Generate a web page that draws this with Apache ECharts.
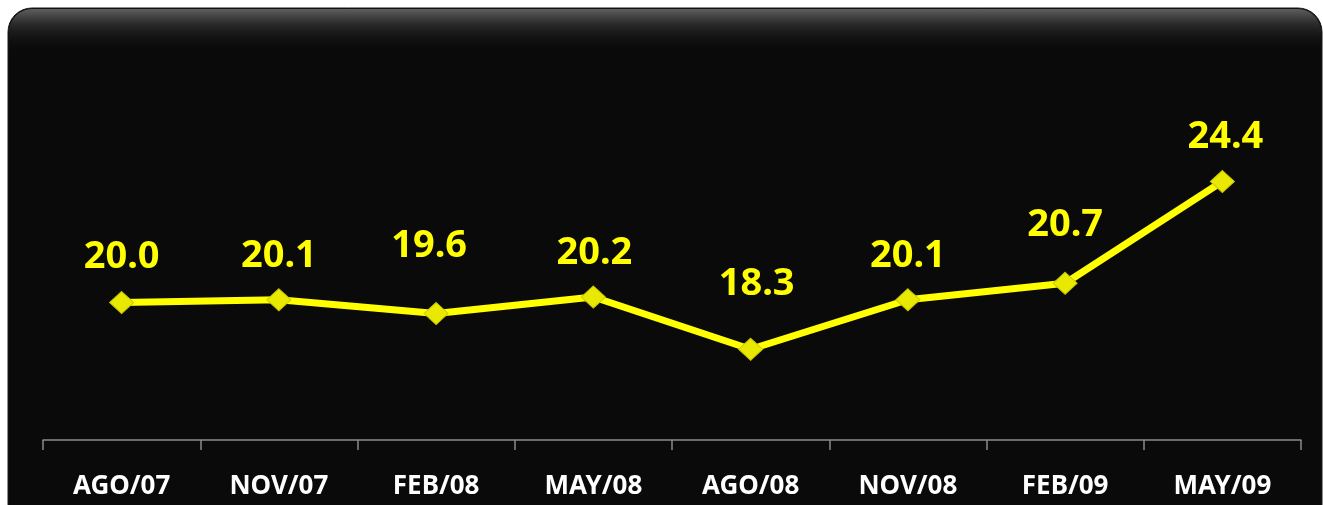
<!DOCTYPE html>
<html>
<head>
<meta charset="utf-8">
<script src="https://cdn.jsdelivr.net/npm/echarts@6/dist/echarts.min.js"></script>
<style>
  html, body { margin: 0; padding: 0; background: #ffffff; }
  #chart { width: 1323px; height: 505px; }
</style>
</head>
<body>
<div id="chart"></div>
<script>
// data
var categories = ['AGO/07', 'NOV/07', 'FEB/08', 'MAY/08', 'AGO/08', 'NOV/08', 'FEB/09', 'MAY/09']
var values = [20.0, 20.1, 19.6, 20.2, 18.3, 20.1, 20.7, 24.4]

// label placement (pixels above / beside each point, as in the original)
var labelLift = [45, 44, 67, 44, 65, 44, 58, 44]
var labelShift = [0, 0, -7, 1, 6, 0, 0, 3]

var chart = echarts.init(document.getElementById('chart'))

var points = values.map(function (v, i) {
  return {
    value: v,
    label: { offset: [labelShift[i], -labelLift[i]] }
  }
})

var option = {
  animation: false,
  backgroundColor: '#ffffff',
  graphic: [
    {
      type: 'rect',
      z: -10,
      shape: { x: 8, y: 8, width: 1314, height: 520, r: 24 },
      style: { fill: '#0a0a0a', stroke: '#1a1a1a', lineWidth: 1 }
    },
    {
      type: 'rect',
      z: -9,
      shape: { x: 9, y: 9, width: 1312, height: 44, r: [23, 23, 0, 0] },
      style: {
        fill: new echarts.graphic.LinearGradient(0, 0, 0, 1, [
          { offset: 0, color: 'rgba(95,95,95,1)' },
          { offset: 0.35, color: 'rgba(50,50,50,0.8)' },
          { offset: 1, color: 'rgba(10,10,10,0)' }
        ])
      }
    }
  ],
  grid: { left: 43, right: 22, top: 165, bottom: 65 },
  xAxis: {
    type: 'category',
    data: categories,
    boundaryGap: true,
    axisLine: { lineStyle: { color: '#8a8a8a', width: 1.5 } },
    axisTick: { show: true, length: 10, lineStyle: { color: '#8a8a8a', width: 1.5 } },
    axisLabel: {
      color: '#ffffff',
      fontFamily: 'Noto Sans',
      fontWeight: 'bold',
      fontSize: 26,
      margin: 34
    }
  },
  yAxis: {
    type: 'value',
    min: 15,
    max: 25,
    show: false,
    splitLine: { show: false }
  },
  series: [
    {
      type: 'line',
      data: points,
      symbol: 'diamond',
      symbolSize: [24, 22],
      lineStyle: { color: '#ffff00', width: 7 },
      itemStyle: { color: '#e8e800', borderColor: '#c8c800', borderWidth: 1 },
      label: {
        show: true,
        position: 'inside',
        color: '#ffff00',
        fontFamily: 'Noto Sans',
        fontWeight: 'bold',
        fontSize: 38,
        formatter: function (p) { return p.value.toFixed(1) }
      }
    }
  ]
}

chart.setOption(option)
</script>
</body>
</html>
